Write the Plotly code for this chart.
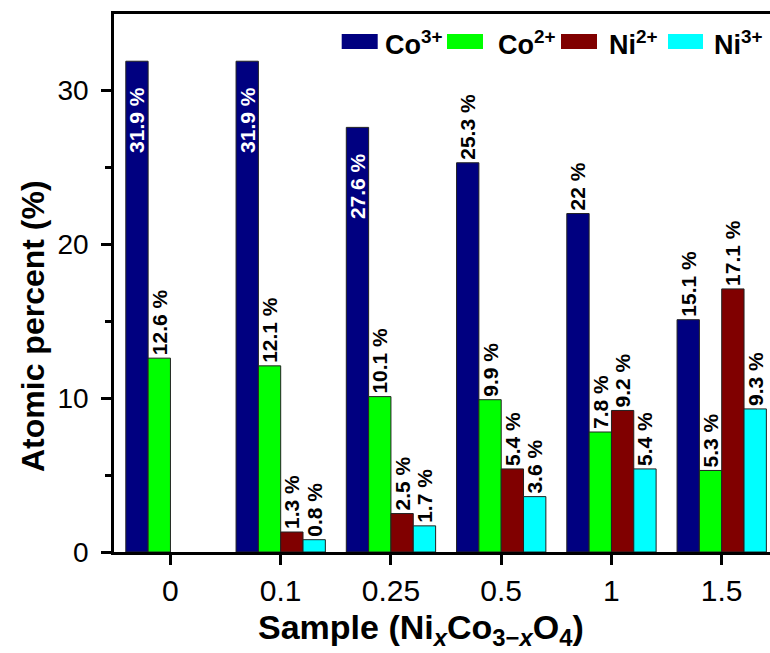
import plotly.graph_objects as go

samples = ["0", "0.1", "0.25", "0.5", "1", "1.5"]
co3 = [31.9, 31.9, 27.6, 25.3, 22, 15.1]
co2 = [12.6, 12.1, 10.1, 9.9, 7.8, 5.3]
ni2 = [None, 1.3, 2.5, 5.4, 9.2, 17.1]
ni3 = [None, 0.8, 1.7, 3.6, 5.4, 9.3]
co3_pos = ["inside", "inside", "inside", "outside", "outside", "outside"]

series = [
    ("Co<sup>3+</sup>", co3, "#000080"),
    ("Co<sup>2+</sup>", co2, "#00FF00"),
    ("Ni<sup>2+</sup>", ni2, "#800000"),
    ("Ni<sup>3+</sup>", ni3, "#00FFFF"),
]

FONT = "Liberation Sans, Arial, sans-serif"
W, H = 770, 653
L, R, T, B = 114, 0, 14, 101
PW, PH = W - L - R, H - T - B
PAD = "\u00a0" * 4  # gap between inside labels and bar top


def px(x):
    return (x - L) / PW


def py(y):
    return (H - B - y) / PH


def fmt(v, pos):
    if v is None:
        return ""
    s = f"{v:g} %"
    return s + PAD if pos == "inside" else s


fig = go.Figure()
for i, (name, vals, col) in enumerate(series):
    pos = co3_pos if i == 0 else ["outside"] * len(vals)
    fig.add_trace(go.Bar(
        x=samples, y=vals, name=name,
        marker=dict(color=col, line=dict(color="#222222", width=1)),
        text=[fmt(v, p) for v, p in zip(vals, pos)],
        textposition=pos,
        textangle=-90,
        insidetextanchor="end",
        constraintext="none",
        cliponaxis=False,
        insidetextfont=dict(color="white", size=21, family=FONT, weight="bold"),
        outsidetextfont=dict(color="black", size=21, family=FONT, weight="bold"),
        showlegend=False,
    ))

fig.update_layout(
    width=W, height=H,
    margin=dict(l=L, r=R, t=T, b=B, pad=0),
    paper_bgcolor="white", plot_bgcolor="white",
    barmode="group", bargap=0.19, bargroupgap=0,
    font=dict(family=FONT, color="black"),
)
fig.update_xaxes(
    type="category", range=[-0.512, 5.438],
    showline=True, linecolor="black", linewidth=2.5, mirror=True,
    ticks="outside", ticklen=10, tickwidth=2.5, tickcolor="black",
    tickfont=dict(size=30, family=FONT),
    showgrid=False, zeroline=False,
)
fig.update_yaxes(
    range=[0, 34.97], tickvals=[0, 10, 20, 30],
    showline=True, linecolor="black", linewidth=2.5, mirror=False,
    ticks="outside", ticklen=10, tickwidth=2.5, tickcolor="black",
    ticklabelstandoff=7,
    minor=dict(tickvals=[5, 15, 25], ticks="outside", ticklen=6, tickwidth=2.5, tickcolor="black"),
    tickfont=dict(size=28, family=FONT),
    showgrid=False, zeroline=False,
)

# axis titles
fig.add_annotation(
    x=px(421), y=py(629), xref="paper", yref="paper",
    text="<b>Sample (Ni<sub><i>x</i></sub>Co<sub>3\u2212<i>x</i></sub>O<sub>4</sub>)</b>",
    showarrow=False, font=dict(size=34, family=FONT), xanchor="center", yanchor="middle",
)
fig.add_annotation(
    x=px(33), y=py(326), xref="paper", yref="paper",
    text="<b>Atomic percent (%)</b>", textangle=-90,
    showarrow=False, font=dict(size=32, family=FONT), xanchor="center", yanchor="middle",
)

# legend
sw = [(341.7, 377.7, 383), (447, 483, 496), (561, 597, 607), (668, 703, 712)]
for (name, vals, col), (x0, x1, tx) in zip(series, sw):
    fig.add_shape(type="rect", xref="paper", yref="paper",
                  x0=px(x0), x1=px(x1), y0=py(49), y1=py(34),
                  fillcolor=col, line=dict(width=0))
    fig.add_annotation(x=px(tx), y=py(43), xref="paper", yref="paper",
                       text=f"<b>{name}</b>", showarrow=False,
                       font=dict(size=27, family=FONT), xanchor="left", yanchor="middle")

fig.write_html(
    "out.html",
    config={"displayModeBar": False},
    post_script="document.body.style.margin='0';document.body.style.overflow='hidden';",
)
